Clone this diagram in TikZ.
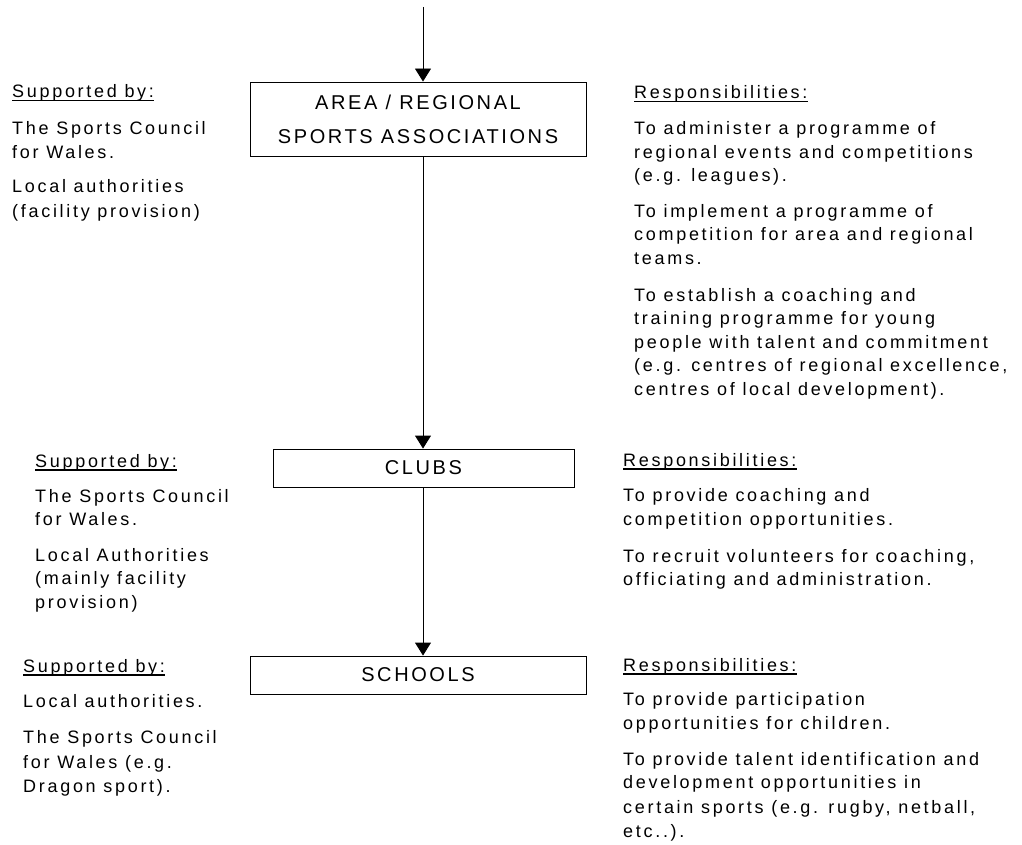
\documentclass[tikz,border=0pt]{standalone}
\usepackage{fontspec}
\setmainfont{Liberation Sans}
\newfontfamily\bodyfam{Liberation Sans}[LetterSpace=15]
\newfontfamily\boxfam{Liberation Sans}[LetterSpace=13]
\usetikzlibrary{arrows.meta}
\tikzset{
  body/.style={anchor=base west, inner sep=0pt, font=\bodyfam\fontsize{18pt}{23.5pt}\selectfont},
  boxnode/.style={draw, line width=0.9pt, inner sep=0pt, align=center,
    font=\boxfam\fontsize{20pt}{34pt}\selectfont},
  link/.style={line width=0.9pt, -{Triangle[width=16pt,length=13pt]}},
  uline/.style={line width=1.4pt}
}
\begin{document}
\begin{tikzpicture}[x=1pt,y=-1pt]
\useasboundingbox (0,0) rectangle (1022,845);
% boxes
\node[boxnode, minimum width=336pt, minimum height=74pt] (area) at (418,119) {AREA / REGIONAL\\SPORTS ASSOCIATIONS};
\node[boxnode, minimum width=301pt, minimum height=38pt] (clubs) at (423.5,468) {CLUBS};
\node[boxnode, minimum width=336pt, minimum height=38pt] (schools) at (418,675) {SCHOOLS};
\coordinate (top) at (423,7);
\draw[link] (top) -- (top |- area.north);
\draw[link] (top |- area.south) -- (top |- clubs.north);
\draw[link] (top |- clubs.south) -- (top |- schools.north);
% left block A
\node[body] (la0) at (12,98) {Supported by:};
\node[body] (la1) at (12,135) {The Sports Council};
\node[body] (la2) at (12,159) {for Wales.};
\node[body] (la3) at (12,193) {Local authorities};
\node[body] (la4) at (12,217) {(facility provision)};
% left block B
\node[body] (lb0) at (35,467) {Supported by:};
\node[body] (lb1) at (35,502) {The Sports Council};
\node[body] (lb2) at (35,525) {for Wales.};
\node[body] (lb3) at (35,561) {Local Authorities};
\node[body] (lb4) at (35,584) {(mainly facility};
\node[body] (lb5) at (35,608) {provision)};
% left block C
\node[body] (lc0) at (23,672) {Supported by:};
\node[body] (lc1) at (23,707) {Local authorities.};
\node[body] (lc2) at (23,743) {The Sports Council};
\node[body] (lc3) at (23,768) {for Wales (e.g.};
\node[body] (lc4) at (23,792) {Dragon sport).};
% right block A
\node[body] (ra0) at (634,99) {Responsibilities:};
\node[body] (ra1) at (634,135) {To administer a programme of};
\node[body] (ra2) at (634,158.5) {regional events and competitions};
\node[body] (ra3) at (634,182) {(e.g. leagues).};
\node[body] (ra4) at (634,217) {To implement a programme of};
\node[body] (ra5) at (634,240.5) {competition for area and regional};
\node[body] (ra6) at (634,264) {teams.};
\node[body] (ra7) at (634,301) {To establish a coaching and};
\node[body] (ra8) at (634,324.5) {training programme for young};
\node[body] (ra9) at (634,348) {people with talent and commitment};
\node[body] (ra10) at (634,371.5) {(e.g. centres of regional excellence,};
\node[body] (ra11) at (634,395) {centres of local development).};
% right block B
\node[body] (rb0) at (623,466) {Responsibilities:};
\node[body] (rb1) at (623,501) {To provide coaching and};
\node[body] (rb2) at (623,525) {competition opportunities.};
\node[body] (rb3) at (623,562) {To recruit volunteers for coaching,};
\node[body] (rb4) at (623,585) {officiating and administration.};
% right block C
\node[body] (rc0) at (623,671) {Responsibilities:};
\node[body] (rc1) at (623,705) {To provide participation};
\node[body] (rc2) at (623,729) {opportunities for children.};
\node[body] (rc3) at (623,765) {To provide talent identification and};
\node[body] (rc4) at (623,788) {development opportunities in};
\node[body] (rc5) at (623,813) {certain sports (e.g. rugby, netball,};
\node[body] (rc6) at (623,837) {etc..).};
% underlines
\foreach \n in {la0,lb0,lc0,ra0,rb0,rc0}
  \draw[uline] ([yshift=-2.8pt]\n.base west) -- ([yshift=-2.8pt]\n.base east);
\end{tikzpicture}
\end{document}
